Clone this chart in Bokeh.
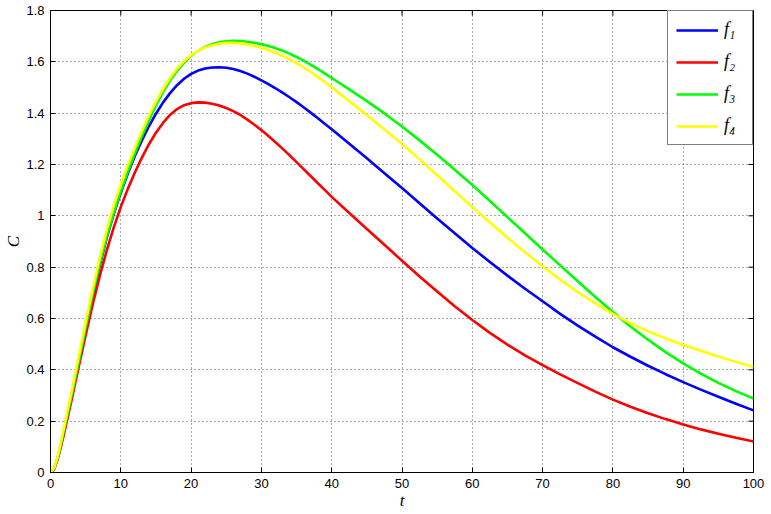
import math
from bokeh.plotting import figure
from bokeh.models import Range1d, FixedTicker, Legend, LegendItem, ColumnDataSource
from bokeh.embed import file_html
from bokeh.resources import INLINE

# ---- data ----
t = [0, 0.5, 1, 1.5, 2, 3, 4, 5, 6, 7, 8, 9, 10, 11, 12, 13, 14, 15, 16, 17, 18, 19, 20,
     21, 22, 23, 24, 25, 26, 27, 28, 29, 30, 31, 32, 33, 34, 35, 36, 37, 38, 39, 40,
     42.5, 45, 47.5, 50, 52.5, 55, 57.5, 60, 62.5, 65, 67.5, 70, 72.5, 75, 77.5, 80,
     82.5, 85, 87.5, 90, 92.5, 95, 97.5, 100]

f1 = [0, 0.014, 0.055, 0.11, 0.172, 0.297, 0.427, 0.557, 0.685, 0.805, 0.915, 1.008, 1.09,
      1.165, 1.233, 1.294, 1.349, 1.398, 1.441, 1.478, 1.509, 1.534, 1.553,
      1.566, 1.574, 1.578, 1.579, 1.577, 1.572, 1.564, 1.554, 1.542, 1.528,
      1.513, 1.497, 1.48, 1.462, 1.443, 1.423, 1.402, 1.381, 1.359, 1.337,
      1.281, 1.224, 1.166, 1.108, 1.049, 0.99, 0.932, 0.875, 0.82, 0.767, 0.716, 0.667,
      0.618, 0.572, 0.529, 0.488, 0.451, 0.416, 0.383, 0.352, 0.323, 0.295, 0.268, 0.242]

f2 = [0, 0.012, 0.05, 0.102, 0.16, 0.283, 0.41, 0.535, 0.655, 0.765, 0.865, 0.955, 1.035,
      1.105, 1.169, 1.227, 1.279, 1.324, 1.362, 1.393, 1.416, 1.431, 1.439,
      1.442, 1.441, 1.437, 1.43, 1.42, 1.408, 1.393, 1.375, 1.355, 1.334,
      1.311, 1.287, 1.262, 1.236, 1.209, 1.182, 1.155, 1.128, 1.101, 1.074,
      1.011, 0.949, 0.887, 0.825, 0.764, 0.705, 0.648, 0.594, 0.544, 0.498, 0.456, 0.418,
      0.382, 0.348, 0.315, 0.284, 0.256, 0.231, 0.208, 0.187, 0.168, 0.151, 0.135, 0.121]

f3 = [0, 0.014, 0.055, 0.112, 0.175, 0.3, 0.43, 0.565, 0.695, 0.812, 0.92, 1.012, 1.095,
      1.172, 1.243, 1.31, 1.372, 1.43, 1.482, 1.527, 1.565, 1.597, 1.623,
      1.643, 1.658, 1.669, 1.676, 1.68, 1.6815, 1.681, 1.6785, 1.6745, 1.669,
      1.662, 1.6535, 1.6435, 1.632, 1.619, 1.6045, 1.589, 1.5725, 1.555, 1.537,
      1.493, 1.447, 1.399, 1.348, 1.294, 1.238, 1.18, 1.12, 1.058, 0.995, 0.932, 0.869,
      0.807, 0.745, 0.684, 0.625, 0.569, 0.517, 0.469, 0.425, 0.385, 0.349, 0.317, 0.288]

f4 = [0, 0.016, 0.06, 0.12, 0.185, 0.315, 0.45, 0.585, 0.715, 0.835, 0.945, 1.04, 1.122,
      1.197, 1.266, 1.33, 1.39, 1.445, 1.494, 1.537, 1.574, 1.603, 1.626,
      1.643, 1.656, 1.665, 1.671, 1.674, 1.674, 1.672, 1.668, 1.662, 1.655,
      1.646, 1.6355, 1.6235, 1.61, 1.595, 1.5785, 1.5605, 1.5415, 1.5215, 1.5005,
      1.447, 1.392, 1.336, 1.28, 1.22, 1.158, 1.096, 1.034, 0.974, 0.915, 0.858, 0.803,
      0.751, 0.703, 0.659, 0.618, 0.582, 0.55, 0.522, 0.497, 0.474, 0.452, 0.431, 0.411]

series_names = ["f\u2081", "f\u2082", "f\u2083", "f\u2084"]
series_colors = ["#0000ff", "#ff0000", "#00ff00", "#ffff00"]

x_ticks = [0, 10, 20, 30, 40, 50, 60, 70, 80, 90, 100]
y_ticks = [0, 0.2, 0.4, 0.6, 0.8, 1, 1.2, 1.4, 1.6, 1.8]
y_tick_labels = ["0", "0.2", "0.4", "0.6", "0.8", "1", "1.2", "1.4", "1.6", "1.8"]
x_label = "t"
y_label = "C"

# ---- figure ----
p = figure(width=771, height=514,
           x_range=Range1d(x_ticks[0], x_ticks[-1]), y_range=Range1d(y_ticks[0], y_ticks[-1]),
           output_backend="svg", toolbar_location=None,
           min_border_left=50, min_border_right=18, min_border_top=10, min_border_bottom=42)
p.background_fill_color = "white"
p.border_fill_color = "white"
p.outline_line_color = "black"
p.outline_line_width = 1

for ax in (p.xaxis[0], p.yaxis[0]):
    ax.axis_line_color = "black"
    ax.major_tick_in = 5
    ax.major_tick_out = 0
    ax.minor_tick_in = 0
    ax.minor_tick_out = 0
    ax.major_tick_line_color = "black"
    ax.major_label_text_color = "black"
    ax.major_label_text_font = "Liberation Sans"
    ax.major_label_text_font_size = "13px"
    ax.axis_label_text_font = "Liberation Serif"
    ax.axis_label_text_font_style = "italic"
    ax.axis_label_text_font_size = "17px"
    ax.axis_label_text_color = "black"

p.xaxis.ticker = FixedTicker(ticks=x_ticks)
p.yaxis.ticker = FixedTicker(ticks=y_ticks)
p.yaxis.major_label_overrides = {v: s for v, s in zip(y_ticks, y_tick_labels)}
p.xaxis.major_label_standoff = 6
p.yaxis.major_label_standoff = 6
p.xaxis.axis_label = x_label
p.yaxis.axis_label = y_label
p.xaxis.axis_label_standoff = 0
p.yaxis.axis_label_standoff = 0

# inward ticks on the top and right edges of the box (MATLAB style)
p.ray(x=x_ticks, y=[y_ticks[-1]] * len(x_ticks), length=5, length_units="screen",
      angle=-math.pi / 2, line_color="black", line_width=1)
p.ray(x=[x_ticks[-1]] * len(y_ticks), y=y_ticks, length=5, length_units="screen",
      angle=math.pi, line_color="black", line_width=1)

p.xgrid.ticker = FixedTicker(ticks=x_ticks)
p.ygrid.ticker = FixedTicker(ticks=y_ticks)
for g in (p.xgrid[0], p.ygrid[0]):
    g.grid_line_color = "#555555"
    g.grid_line_dash = "1 3"
    g.grid_line_width = 1

src = ColumnDataSource(dict(t=t, f1=f1, f2=f2, f3=f3, f4=f4))
items = []
for key, name, col in zip(["f1", "f2", "f3", "f4"], series_names, series_colors):
    r = p.line("t", key, source=src, line_color=col, line_width=2.6, line_join="round")
    items.append(LegendItem(label=name, renderers=[r]))

legend = Legend(items=items, location="top_right", margin=0, padding=8, spacing=11,
                glyph_width=42, glyph_height=20, label_height=20, label_standoff=6,
                label_text_font="Liberation Serif", label_text_font_style="italic",
                label_text_font_size="18px", label_text_color="black",
                border_line_color="black", border_line_width=1,
                background_fill_color="white", background_fill_alpha=1)
p.add_layout(legend)

open("out.html", "w").write(file_html(p, INLINE))
